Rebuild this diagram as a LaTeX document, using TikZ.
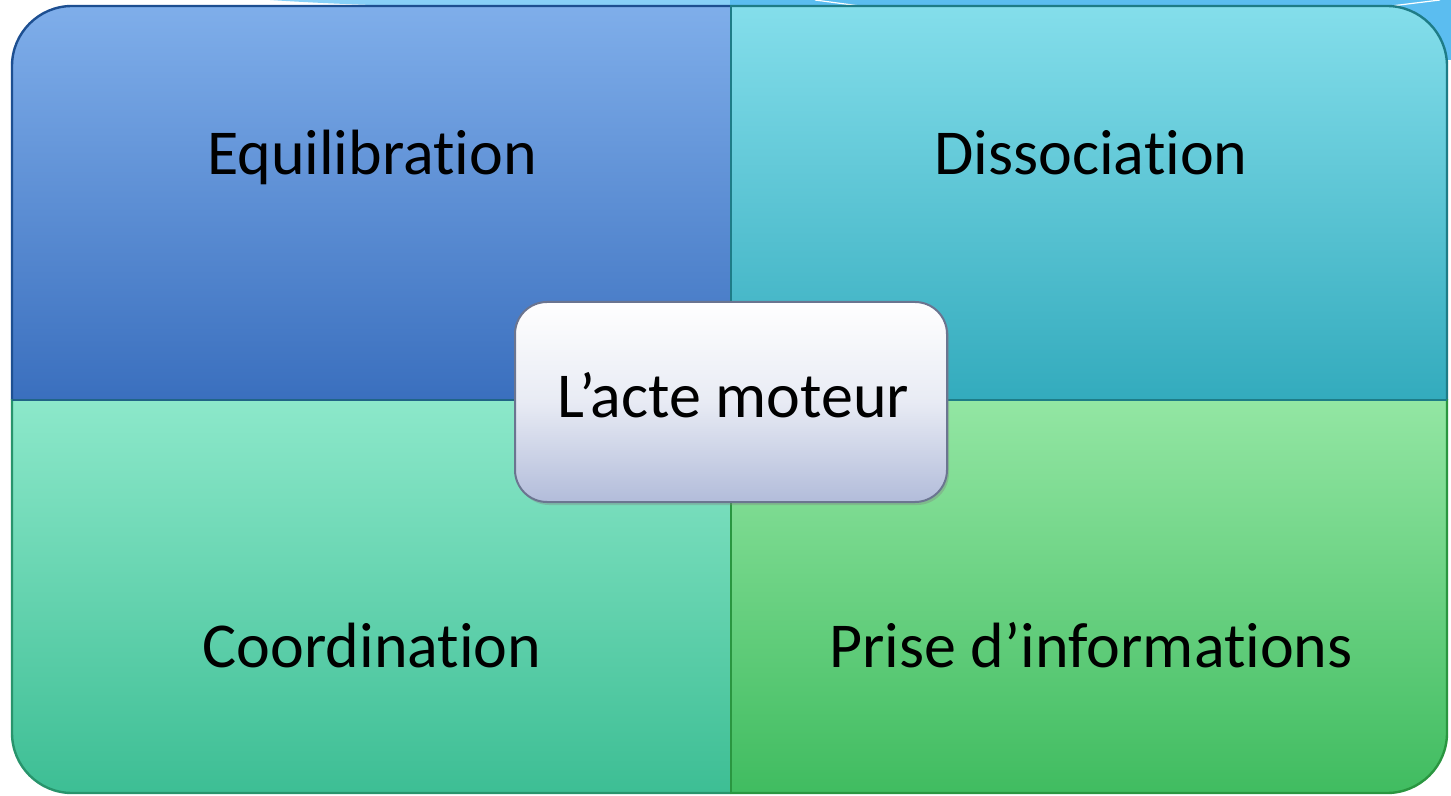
\documentclass[tikz,border=0pt]{standalone}
\usepackage{fontspec}
\setmainfont{Carlito}[Ligatures={NoCommon,NoContextual}]
\usetikzlibrary{shadows}
\definecolor{tlTop}{HTML}{7FAEEA}
\definecolor{tlBot}{HTML}{3A6FBE}
\definecolor{tlLine}{HTML}{1D4F91}
\definecolor{trTop}{HTML}{84DEEB}
\definecolor{trBot}{HTML}{33ABBD}
\definecolor{trLine}{HTML}{1E7C87}
\definecolor{blTop}{HTML}{8CE8CA}
\definecolor{blBot}{HTML}{3DBE94}
\definecolor{blLine}{HTML}{28946C}
\definecolor{brTop}{HTML}{93E6A3}
\definecolor{brBot}{HTML}{40BC60}
\definecolor{brLine}{HTML}{2A9640}
\definecolor{cTop}{HTML}{FFFFFF}
\definecolor{cBot}{HTML}{B2BCDA}
\definecolor{cLine}{HTML}{6B7590}
\definecolor{skyA}{HTML}{88D0F8}
\definecolor{skyB}{HTML}{5BBDF0}
\tikzset{
  quadtext/.style={font=\fontsize{32}{36}\selectfont, text=black, anchor=base, inner sep=0pt},
  quadline/.style={line width=1.2pt},
  centerbox/.style={draw=cLine, line width=1pt, rounded corners=16pt,
    top color=cTop, bottom color=cBot, middle color=cTop!70!cBot,
    minimum width=216pt, minimum height=100pt,
    drop shadow={opacity=0.35, shadow xshift=1pt, shadow yshift=-1.5pt}}
}
\begin{document}
\begin{tikzpicture}[x=0.5pt,y=-0.5pt]
\useasboundingbox (0,0) rectangle (1451,796);
\fill[white] (0,0) rectangle (1451,796);
% slide background remnants
\fill[skyA] (270,0) .. controls (420,10) and (600,8) .. (730,8) -- (1451,8) -- (1451,0) -- cycle;
\fill[skyB] (730,0) rectangle (1451,8);
\fill[skyB] (1400,0) -- (1451,0) -- (1451,60) -- (1447,60) -- cycle;
\draw[white, line width=0.6pt] (815,0) -- (860,6);
\draw[white, line width=0.6pt] (1375,8) -- (1440,0);
% quadrant fills
\begin{scope}
  \clip[rounded corners=30pt] (12,6) rectangle (1447,793);
  \shade[top color=tlTop, bottom color=tlBot] (12,6) rectangle (730,400);
  \shade[top color=trTop, bottom color=trBot] (730,6) rectangle (1447,400);
  \shade[top color=blTop, bottom color=blBot] (12,400) rectangle (730,793);
  \shade[top color=brTop, bottom color=brBot] (730,400) rectangle (1447,793);
\end{scope}
% quadrant borders
\begin{scope}
  \clip (0,0) rectangle (730,400);
  \draw[quadline, draw=tlLine, rounded corners=30pt] (12,6) rectangle (1447,793);
\end{scope}
\begin{scope}
  \clip (730,0) rectangle (1451,400);
  \draw[quadline, draw=trLine, rounded corners=30pt] (12,6) rectangle (1447,793);
\end{scope}
\begin{scope}
  \clip (0,400) rectangle (730,796);
  \draw[quadline, draw=blLine, rounded corners=30pt] (12,6) rectangle (1447,793);
\end{scope}
\begin{scope}
  \clip (730,400) rectangle (1451,796);
  \draw[quadline, draw=brLine, rounded corners=30pt] (12,6) rectangle (1447,793);
\end{scope}
\draw[line width=0.8pt, draw=trLine] (731,6) -- (731,400);
\draw[line width=0.8pt, draw=brLine] (731,400) -- (731,793);
\draw[line width=0.6pt, draw=tlLine!70!blLine] (12,400) -- (730,400);
\draw[line width=0.6pt, draw=trLine] (731,400) -- (1447,400);
% labels
\node[quadtext] (eq) at (372,175) {Equilibration};
\node[quadtext] (dis) at (1091,175) {Dissociation};
\node[quadtext] (coo) at (372,667) {Coordination};
\node[quadtext] (pri) at (1091,667) {Prise d’informations};
\node[centerbox] (acte) at (731,402) {};
\node[quadtext] (acteText) at (733,418) {L’acte moteur};
\end{tikzpicture}
\end{document}
